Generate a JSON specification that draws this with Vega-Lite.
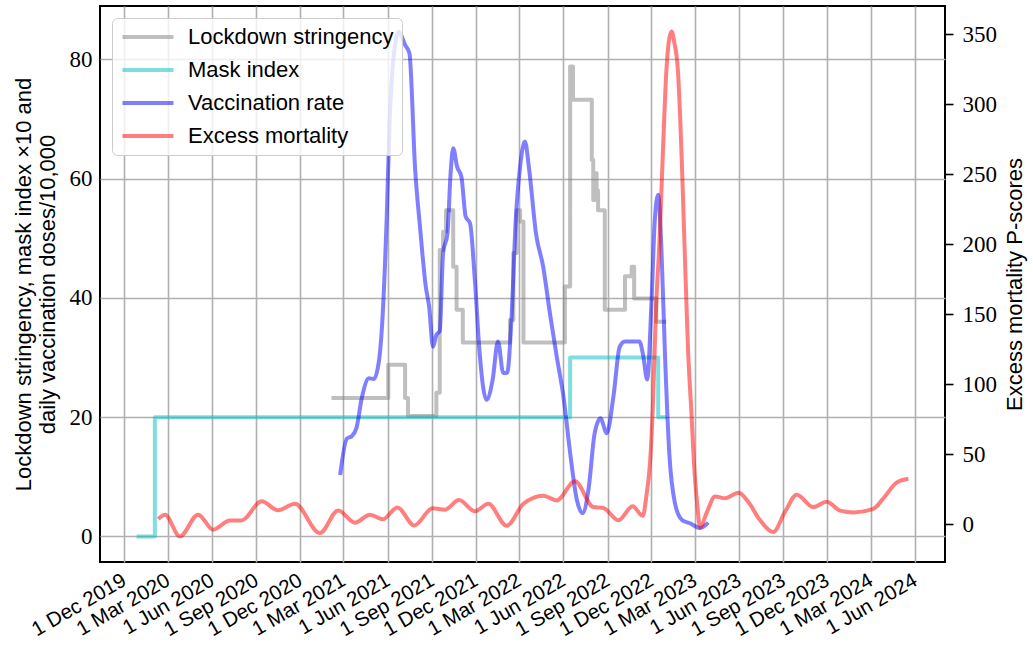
{
  "$schema": "https://vega.github.io/schema/vega-lite/v6.json",
  "width": 845,
  "height": 556,
  "autosize": {"type": "none"},
  "padding": {"left": 100, "top": 6, "right": 88, "bottom": 91},
  "background": "white",
  "config": {
    "view": {"stroke": "black", "strokeWidth": 2},
    "line": {"strokeWidth": 4, "opacity": 0.5, "strokeJoin": "round"}
  },
  "datasets": {
    "lockdown": [
      {"date": "2021-02-04", "value": 23.2, "series": "Lockdown stringency"},
      {"date": "2021-06-02", "value": 28.8, "series": "Lockdown stringency"},
      {"date": "2021-07-07", "value": 23.2, "series": "Lockdown stringency"},
      {"date": "2021-07-13", "value": 20.2, "series": "Lockdown stringency"},
      {"date": "2021-09-10", "value": 24.1, "series": "Lockdown stringency"},
      {"date": "2021-09-17", "value": 48.0, "series": "Lockdown stringency"},
      {"date": "2021-09-24", "value": 51.1, "series": "Lockdown stringency"},
      {"date": "2021-09-30", "value": 54.7, "series": "Lockdown stringency"},
      {"date": "2021-10-15", "value": 45.2, "series": "Lockdown stringency"},
      {"date": "2021-10-22", "value": 38.0, "series": "Lockdown stringency"},
      {"date": "2021-11-04", "value": 32.5, "series": "Lockdown stringency"},
      {"date": "2022-02-10", "value": 36.3, "series": "Lockdown stringency"},
      {"date": "2022-02-17", "value": 47.5, "series": "Lockdown stringency"},
      {"date": "2022-02-24", "value": 54.7, "series": "Lockdown stringency"},
      {"date": "2022-03-03", "value": 52.8, "series": "Lockdown stringency"},
      {"date": "2022-03-10", "value": 32.5, "series": "Lockdown stringency"},
      {"date": "2022-06-04", "value": 41.9, "series": "Lockdown stringency"},
      {"date": "2022-06-15", "value": 78.8, "series": "Lockdown stringency"},
      {"date": "2022-06-21", "value": 73.2, "series": "Lockdown stringency"},
      {"date": "2022-07-30", "value": 63.1, "series": "Lockdown stringency"},
      {"date": "2022-08-02", "value": 56.4, "series": "Lockdown stringency"},
      {"date": "2022-08-05", "value": 60.9, "series": "Lockdown stringency"},
      {"date": "2022-08-09", "value": 58.0, "series": "Lockdown stringency"},
      {"date": "2022-08-12", "value": 54.7, "series": "Lockdown stringency"},
      {"date": "2022-08-26", "value": 38.0, "series": "Lockdown stringency"},
      {"date": "2022-10-07", "value": 43.6, "series": "Lockdown stringency"},
      {"date": "2022-10-21", "value": 45.2, "series": "Lockdown stringency"},
      {"date": "2022-10-26", "value": 39.9, "series": "Lockdown stringency"},
      {"date": "2022-12-11", "value": 36.0, "series": "Lockdown stringency"},
      {"date": "2023-01-01", "value": 36.0, "series": "Lockdown stringency"}
    ],
    "mask": [
      {"date": "2019-12-27", "value": 0, "series": "Mask index"},
      {"date": "2020-02-03", "value": 20, "series": "Mask index"},
      {"date": "2022-06-15", "value": 30, "series": "Mask index"},
      {"date": "2022-12-15", "value": 20, "series": "Mask index"},
      {"date": "2023-01-01", "value": 20, "series": "Mask index"}
    ],
    "vacc": [
      {"date": "2021-02-22", "value": 10.3, "series": "Vaccination rate"},
      {"date": "2021-03-08", "value": 16.4, "series": "Vaccination rate"},
      {"date": "2021-03-18", "value": 16.8, "series": "Vaccination rate"},
      {"date": "2021-03-28", "value": 18.2, "series": "Vaccination rate"},
      {"date": "2021-04-08", "value": 23.2, "series": "Vaccination rate"},
      {"date": "2021-04-23", "value": 26.5, "series": "Vaccination rate"},
      {"date": "2021-05-03", "value": 26.4, "series": "Vaccination rate"},
      {"date": "2021-05-14", "value": 29.6, "series": "Vaccination rate"},
      {"date": "2021-05-22", "value": 38.0, "series": "Vaccination rate"},
      {"date": "2021-05-30", "value": 54.0, "series": "Vaccination rate"},
      {"date": "2021-06-05", "value": 69.8, "series": "Vaccination rate"},
      {"date": "2021-06-14", "value": 81.0, "series": "Vaccination rate"},
      {"date": "2021-06-24", "value": 84.6, "series": "Vaccination rate"},
      {"date": "2021-07-07", "value": 82.4, "series": "Vaccination rate"},
      {"date": "2021-07-16", "value": 81.0, "series": "Vaccination rate"},
      {"date": "2021-07-28", "value": 61.4, "series": "Vaccination rate"},
      {"date": "2021-08-07", "value": 51.9, "series": "Vaccination rate"},
      {"date": "2021-08-19", "value": 41.9, "series": "Vaccination rate"},
      {"date": "2021-08-26", "value": 38.5, "series": "Vaccination rate"},
      {"date": "2021-09-03", "value": 31.8, "series": "Vaccination rate"},
      {"date": "2021-09-10", "value": 33.8, "series": "Vaccination rate"},
      {"date": "2021-09-17", "value": 34.4, "series": "Vaccination rate"},
      {"date": "2021-09-24", "value": 47.5, "series": "Vaccination rate"},
      {"date": "2021-10-03", "value": 50.8, "series": "Vaccination rate"},
      {"date": "2021-10-10", "value": 61.4, "series": "Vaccination rate"},
      {"date": "2021-10-15", "value": 65.1, "series": "Vaccination rate"},
      {"date": "2021-10-23", "value": 62.0, "series": "Vaccination rate"},
      {"date": "2021-11-01", "value": 60.3, "series": "Vaccination rate"},
      {"date": "2021-11-10", "value": 53.6, "series": "Vaccination rate"},
      {"date": "2021-11-19", "value": 52.5, "series": "Vaccination rate"},
      {"date": "2021-11-29", "value": 43.0, "series": "Vaccination rate"},
      {"date": "2021-12-09", "value": 30.7, "series": "Vaccination rate"},
      {"date": "2021-12-23", "value": 22.9, "series": "Vaccination rate"},
      {"date": "2022-01-05", "value": 26.3, "series": "Vaccination rate"},
      {"date": "2022-01-16", "value": 32.7, "series": "Vaccination rate"},
      {"date": "2022-01-27", "value": 27.4, "series": "Vaccination rate"},
      {"date": "2022-02-04", "value": 27.4, "series": "Vaccination rate"},
      {"date": "2022-02-13", "value": 36.3, "series": "Vaccination rate"},
      {"date": "2022-02-22", "value": 53.1, "series": "Vaccination rate"},
      {"date": "2022-03-03", "value": 62.0, "series": "Vaccination rate"},
      {"date": "2022-03-13", "value": 66.2, "series": "Vaccination rate"},
      {"date": "2022-03-22", "value": 61.4, "series": "Vaccination rate"},
      {"date": "2022-04-05", "value": 50.8, "series": "Vaccination rate"},
      {"date": "2022-04-20", "value": 45.2, "series": "Vaccination rate"},
      {"date": "2022-05-04", "value": 37.4, "series": "Vaccination rate"},
      {"date": "2022-05-18", "value": 30.2, "series": "Vaccination rate"},
      {"date": "2022-06-01", "value": 23.5, "series": "Vaccination rate"},
      {"date": "2022-06-15", "value": 14.0, "series": "Vaccination rate"},
      {"date": "2022-06-29", "value": 6.1, "series": "Vaccination rate"},
      {"date": "2022-07-11", "value": 3.9, "series": "Vaccination rate"},
      {"date": "2022-07-23", "value": 7.8, "series": "Vaccination rate"},
      {"date": "2022-08-05", "value": 17.3, "series": "Vaccination rate"},
      {"date": "2022-08-17", "value": 19.8, "series": "Vaccination rate"},
      {"date": "2022-08-30", "value": 17.3, "series": "Vaccination rate"},
      {"date": "2022-09-13", "value": 23.5, "series": "Vaccination rate"},
      {"date": "2022-09-26", "value": 31.8, "series": "Vaccination rate"},
      {"date": "2022-10-07", "value": 32.7, "series": "Vaccination rate"},
      {"date": "2022-11-06", "value": 32.7, "series": "Vaccination rate"},
      {"date": "2022-11-14", "value": 30.2, "series": "Vaccination rate"},
      {"date": "2022-11-22", "value": 26.3, "series": "Vaccination rate"},
      {"date": "2022-12-01", "value": 39.1, "series": "Vaccination rate"},
      {"date": "2022-12-08", "value": 53.1, "series": "Vaccination rate"},
      {"date": "2022-12-15", "value": 57.3, "series": "Vaccination rate"},
      {"date": "2022-12-22", "value": 47.5, "series": "Vaccination rate"},
      {"date": "2022-12-29", "value": 30.7, "series": "Vaccination rate"},
      {"date": "2023-01-07", "value": 14.0, "series": "Vaccination rate"},
      {"date": "2023-01-19", "value": 5.5, "series": "Vaccination rate"},
      {"date": "2023-02-02", "value": 2.8, "series": "Vaccination rate"},
      {"date": "2023-02-19", "value": 2.2, "series": "Vaccination rate"},
      {"date": "2023-03-12", "value": 1.4, "series": "Vaccination rate"},
      {"date": "2023-03-29", "value": 2.3, "series": "Vaccination rate"}
    ],
    "excess": [
      {"date": "2020-02-10", "value": 3.9, "series": "Excess mortality"},
      {"date": "2020-02-24", "value": 7.0, "series": "Excess mortality"},
      {"date": "2020-03-26", "value": -8.5, "series": "Excess mortality"},
      {"date": "2020-05-03", "value": 7.0, "series": "Excess mortality"},
      {"date": "2020-06-03", "value": -3.7, "series": "Excess mortality"},
      {"date": "2020-07-08", "value": 2.9, "series": "Excess mortality"},
      {"date": "2020-08-01", "value": 2.9, "series": "Excess mortality"},
      {"date": "2020-09-12", "value": 16.5, "series": "Excess mortality"},
      {"date": "2020-10-16", "value": 10.1, "series": "Excess mortality"},
      {"date": "2020-11-20", "value": 14.8, "series": "Excess mortality"},
      {"date": "2021-01-11", "value": -6.1, "series": "Excess mortality"},
      {"date": "2021-02-18", "value": 10.0, "series": "Excess mortality"},
      {"date": "2021-03-25", "value": 1.3, "series": "Excess mortality"},
      {"date": "2021-04-25", "value": 7.0, "series": "Excess mortality"},
      {"date": "2021-05-22", "value": 3.7, "series": "Excess mortality"},
      {"date": "2021-06-21", "value": 12.2, "series": "Excess mortality"},
      {"date": "2021-07-26", "value": -0.7, "series": "Excess mortality"},
      {"date": "2021-09-02", "value": 11.5, "series": "Excess mortality"},
      {"date": "2021-09-28", "value": 10.6, "series": "Excess mortality"},
      {"date": "2021-10-27", "value": 17.4, "series": "Excess mortality"},
      {"date": "2021-11-29", "value": 9.4, "series": "Excess mortality"},
      {"date": "2021-12-27", "value": 14.8, "series": "Excess mortality"},
      {"date": "2022-02-03", "value": -0.9, "series": "Excess mortality"},
      {"date": "2022-03-10", "value": 14.8, "series": "Excess mortality"},
      {"date": "2022-04-20", "value": 20.6, "series": "Excess mortality"},
      {"date": "2022-05-18", "value": 17.2, "series": "Excess mortality"},
      {"date": "2022-06-25", "value": 30.8, "series": "Excess mortality"},
      {"date": "2022-08-02", "value": 12.5, "series": "Excess mortality"},
      {"date": "2022-08-23", "value": 11.8, "series": "Excess mortality"},
      {"date": "2022-09-23", "value": 3.0, "series": "Excess mortality"},
      {"date": "2022-10-23", "value": 13.0, "series": "Excess mortality"},
      {"date": "2022-11-13", "value": 6.2, "series": "Excess mortality"},
      {"date": "2022-11-21", "value": 22, "series": "Excess mortality"},
      {"date": "2022-11-28", "value": 44, "series": "Excess mortality"},
      {"date": "2022-12-04", "value": 85, "series": "Excess mortality"},
      {"date": "2022-12-10", "value": 150, "series": "Excess mortality"},
      {"date": "2022-12-18", "value": 205, "series": "Excess mortality"},
      {"date": "2022-12-25", "value": 268, "series": "Excess mortality"},
      {"date": "2023-01-01", "value": 324, "series": "Excess mortality"},
      {"date": "2023-01-07", "value": 347, "series": "Excess mortality"},
      {"date": "2023-01-12", "value": 352, "series": "Excess mortality"},
      {"date": "2023-01-17", "value": 345, "series": "Excess mortality"},
      {"date": "2023-01-25", "value": 324, "series": "Excess mortality"},
      {"date": "2023-02-02", "value": 260, "series": "Excess mortality"},
      {"date": "2023-02-08", "value": 196, "series": "Excess mortality"},
      {"date": "2023-02-15", "value": 125, "series": "Excess mortality"},
      {"date": "2023-02-22", "value": 80, "series": "Excess mortality"},
      {"date": "2023-02-28", "value": 40, "series": "Excess mortality"},
      {"date": "2023-03-06", "value": 15, "series": "Excess mortality"},
      {"date": "2023-03-12", "value": -2, "series": "Excess mortality"},
      {"date": "2023-03-26", "value": 8.6, "series": "Excess mortality"},
      {"date": "2023-04-12", "value": 20, "series": "Excess mortality"},
      {"date": "2023-05-03", "value": 18.7, "series": "Excess mortality"},
      {"date": "2023-05-31", "value": 22.6, "series": "Excess mortality"},
      {"date": "2023-06-20", "value": 16.2, "series": "Excess mortality"},
      {"date": "2023-07-14", "value": 3.4, "series": "Excess mortality"},
      {"date": "2023-08-11", "value": -5.4, "series": "Excess mortality"},
      {"date": "2023-09-04", "value": 8.6, "series": "Excess mortality"},
      {"date": "2023-09-29", "value": 21.3, "series": "Excess mortality"},
      {"date": "2023-11-02", "value": 12.4, "series": "Excess mortality"},
      {"date": "2023-11-30", "value": 16.2, "series": "Excess mortality"},
      {"date": "2023-12-28", "value": 9.9, "series": "Excess mortality"},
      {"date": "2024-01-25", "value": 8.6, "series": "Excess mortality"},
      {"date": "2024-03-06", "value": 11.1, "series": "Excess mortality"},
      {"date": "2024-03-27", "value": 18.7, "series": "Excess mortality"},
      {"date": "2024-04-24", "value": 30.1, "series": "Excess mortality"},
      {"date": "2024-05-18", "value": 32.7, "series": "Excess mortality"}
    ]
  },
  "encoding": {
    "x": {
      "field": "date", "type": "temporal",
      "scale": {"type": "utc", "domain": [{"year": 2019, "month": 10, "date": 12, "utc": true}, {"year": 2024, "month": 8, "date": 2, "utc": true}]},
      "axis": {
        "values": [
          {"year": 2019, "month": 12, "date": 1, "utc": true},
          {"year": 2020, "month": 3, "date": 1, "utc": true},
          {"year": 2020, "month": 6, "date": 1, "utc": true},
          {"year": 2020, "month": 9, "date": 1, "utc": true},
          {"year": 2020, "month": 12, "date": 1, "utc": true},
          {"year": 2021, "month": 3, "date": 1, "utc": true},
          {"year": 2021, "month": 6, "date": 1, "utc": true},
          {"year": 2021, "month": 9, "date": 1, "utc": true},
          {"year": 2021, "month": 12, "date": 1, "utc": true},
          {"year": 2022, "month": 3, "date": 1, "utc": true},
          {"year": 2022, "month": 6, "date": 1, "utc": true},
          {"year": 2022, "month": 9, "date": 1, "utc": true},
          {"year": 2022, "month": 12, "date": 1, "utc": true},
          {"year": 2023, "month": 3, "date": 1, "utc": true},
          {"year": 2023, "month": 6, "date": 1, "utc": true},
          {"year": 2023, "month": 9, "date": 1, "utc": true},
          {"year": 2023, "month": 12, "date": 1, "utc": true},
          {"year": 2024, "month": 3, "date": 1, "utc": true},
          {"year": 2024, "month": 6, "date": 1, "utc": true}
        ],
        "labelExpr": "utcFormat(datum.value, '%-d %b %Y')",
        "labelAngle": -30,
        "labelAlign": "right",
        "labelBaseline": "top",
        "labelFont": "Liberation Sans",
        "labelFontSize": 20.5,
        "labelColor": "black",
        "labelPadding": 8,
        "labelOffset": -5,
        "labelOverlap": false,
        "labelFlush": false,
        "ticks": false,
        "domain": false,
        "grid": true,
        "gridColor": "#b0b0b0",
        "gridWidth": 1.6,
        "title": null
      }
    }
  },
  "resolve": {"scale": {"y": "independent"}},
  "layer": [
    {
      "data": {"name": "lockdown"},
      "mark": {"type": "line", "interpolate": "step-after"},
      "encoding": {
        "y": {
          "field": "value", "type": "quantitative",
          "scale": {"domain": [-4.29, 88.93], "nice": false, "zero": false},
          "axis": {
            "values": [0, 20, 40, 60, 80],
            "labelFont": "Liberation Serif",
            "labelFontSize": 23,
            "labelColor": "black",
            "labelPadding": 8,
            "ticks": false,
            "domain": false,
            "grid": true,
            "gridColor": "#b0b0b0",
            "gridWidth": 1.6,
            "title": ["Lockdown stringency, mask index \u00d710 and", "daily vaccination doses/10,000"],
            "titleFont": "Liberation Sans",
            "titleFontSize": 22,
            "titleFontWeight": "normal",
            "titleColor": "black",
            "titleLineHeight": 24,
            "titlePadding": 10
          }
        },
        "color": {
          "field": "series", "type": "nominal",
          "scale": {
            "domain": ["Lockdown stringency", "Mask index", "Vaccination rate", "Excess mortality"],
            "range": ["#808080", "#00bfbf", "#0000ff", "#ff0000"]
          },
          "legend": {
            "orient": "none",
            "legendX": 12,
            "legendY": 12,
            "title": null,
            "symbolType": "M-1,0L5,0",
            "symbolSize": 289,
            "symbolStrokeWidth": 4,
            "symbolOpacity": 0.5,
            "symbolFillColor": "transparent",
            "labelFont": "Liberation Sans",
            "labelFontSize": 22,
            "labelColor": "black",
            "labelOffset": 46,
            "labelLimit": 0,
            "rowPadding": 11,
            "padding": 8,
            "fillColor": "rgba(255,255,255,0.8)",
            "strokeColor": "#cccccc",
            "cornerRadius": 5
          }
        }
      }
    },
    {
      "data": {"name": "mask"},
      "mark": {"type": "line", "interpolate": "step-after"},
      "encoding": {
        "y": {"field": "value", "type": "quantitative", "scale": {"domain": [-4.29, 88.93], "nice": false, "zero": false}, "axis": null},
        "color": {"field": "series", "type": "nominal"}
      }
    },
    {
      "data": {"name": "vacc"},
      "mark": {"type": "line", "interpolate": "monotone"},
      "encoding": {
        "y": {"field": "value", "type": "quantitative", "scale": {"domain": [-4.29, 88.93], "nice": false, "zero": false}, "axis": null},
        "color": {"field": "series", "type": "nominal"}
      }
    },
    {
      "data": {"name": "excess"},
      "mark": {"type": "line", "interpolate": "monotone"},
      "encoding": {
        "y": {
          "field": "value", "type": "quantitative",
          "scale": {"domain": [-26.8, 370.3], "nice": false, "zero": false},
          "axis": {
            "orient": "right",
            "values": [0, 50, 100, 150, 200, 250, 300, 350],
            "labelFont": "Liberation Serif",
            "labelFontSize": 23,
            "labelColor": "black",
            "labelPadding": 9,
            "ticks": true,
            "tickColor": "black",
            "tickSize": 8,
            "tickWidth": 1.6,
            "domain": false,
            "grid": false,
            "title": "Excess mortality P-scores",
            "titleFont": "Liberation Sans",
            "titleFontSize": 22,
            "titleFontWeight": "normal",
            "titleColor": "black",
            "titleAngle": 270,
            "titleBaseline": "top",
            "titlePadding": 8
          }
        },
        "color": {"field": "series", "type": "nominal"}
      }
    }
  ]
}
